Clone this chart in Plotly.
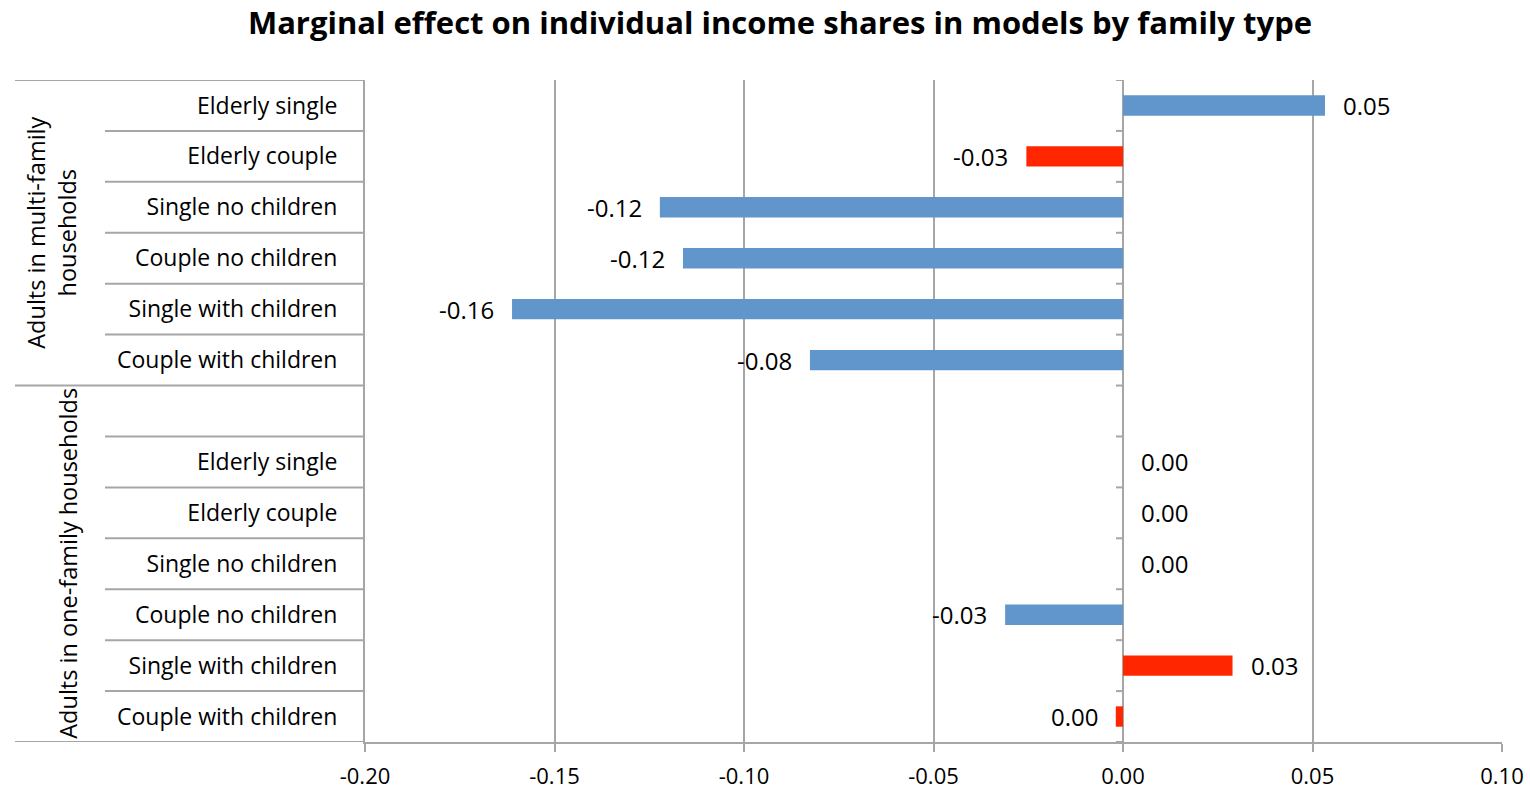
import plotly.graph_objects as go

title = "Marginal effect on individual income shares in models by family type"

group_labels = ["Adults in multi-family<br>households", "Adults in one-family households"]

multi_family_categories = ["Elderly single", "Elderly couple", "Single no children",
                           "Couple no children", "Single with children", "Couple with children"]
multi_family_values = [0.0533, -0.0255, -0.1222, -0.1161, -0.1612, -0.0826]
multi_family_flag = [False, True, False, False, False, False]

one_family_categories = ["", "Elderly single", "Elderly couple", "Single no children",
                         "Couple no children", "Single with children", "Couple with children"]
one_family_values = [None, 0.0, 0.0, 0.0, -0.0311, 0.0289, -0.0019]
one_family_flag = [False, False, False, False, False, True, True]

x_tick_values = [-0.20, -0.15, -0.10, -0.05, 0.00, 0.05, 0.10]

# ---------------------------------------------------------------
BLUE = "#6096CB"
RED = "#FF2600"
GRID = "#A6A6A6"
FONT = "Open Sans"

categories = multi_family_categories + one_family_categories
values = multi_family_values + one_family_values
flags = multi_family_flag + one_family_flag
group_sizes = [len(multi_family_categories), len(one_family_categories)]
n = len(categories)
y_pos = list(range(n))

W, H = 1530, 789
ML, MR, MT, MB = 365, 28, 80, 47
plot_w = W - ML - MR


def px_to_paper(px):
    return (px - ML) / plot_w


def fmt(v):
    return f"{round(v, 2) + 0.0:.2f}"


fig = go.Figure()
fig.add_trace(go.Bar(
    x=values, y=y_pos, orientation="h", width=0.4,
    marker=dict(color=[RED if f else BLUE for f in flags], line=dict(width=0)),
    hoverinfo="x+text", hovertext=categories,
))

annotations = []
for yi, v in zip(y_pos, values):
    if v is None:
        continue
    pos = v >= 0
    annotations.append(dict(x=v, y=yi, xref="x", yref="y", text=fmt(v), showarrow=False,
                            xanchor="left" if pos else "right", xshift=16 if pos else -16,
                            font=dict(size=24, color="black", family=FONT)))

shapes = []
# ticks on the zero axis at category boundaries
for k in range(n + 1):
    b = k - 0.5
    shapes.append(dict(type="line", xref="x", yref="y", xsizemode="pixel", xanchor=0,
                       x0=-7, x1=0, y0=b, y1=b, line=dict(color=GRID, width=2)))

# group / category separators on the left
start = 0
group_centers = []
for gs in group_sizes:
    top = start - 0.5
    bottom = start + gs - 0.5
    group_centers.append((top + bottom) / 2)
    shapes.append(dict(type="line", xref="paper", yref="y", x0=px_to_paper(15), x1=0,
                       y0=top, y1=top, line=dict(color=GRID, width=2)))
    for k in range(1, gs):
        b = start + k - 0.5
        shapes.append(dict(type="line", xref="paper", yref="y", x0=px_to_paper(105), x1=0,
                           y0=b, y1=b, line=dict(color=GRID, width=2)))
    start += gs
shapes.append(dict(type="line", xref="paper", yref="y", x0=px_to_paper(15), x1=0,
                   y0=n - 0.5, y1=n - 0.5, line=dict(color=GRID, width=2)))

group_x_px = [52, 68]
for lbl, c, gx in zip(group_labels, group_centers, group_x_px):
    annotations.append(dict(x=px_to_paper(gx), y=c, xref="paper", yref="y", text=lbl,
                            textangle=-90, showarrow=False, xanchor="center", yanchor="middle",
                            font=dict(size=23.5, color="black", family=FONT)))

fig.update_layout(
    width=W, height=H,
    margin=dict(l=ML, r=MR, t=MT, b=MB),
    paper_bgcolor="white", plot_bgcolor="white",
    font=dict(family=FONT, color="black"),
    showlegend=False,
    title=dict(text=f"<b>{title}</b>", x=780 / W, xanchor="center", xref="container",
               y=1 - 23 / H, yanchor="middle", yref="container",
               font=dict(size=31, color="black", family=FONT)),
    xaxis=dict(range=[x_tick_values[0], x_tick_values[-1]], tickmode="array",
               tickvals=x_tick_values, ticktext=[fmt(v) for v in x_tick_values],
               showgrid=True, gridcolor=GRID, gridwidth=2,
               zeroline=True, zerolinecolor=GRID, zerolinewidth=2,
               showline=True, linecolor=GRID, linewidth=2,
               ticks="outside", ticklen=8, tickcolor=GRID, tickwidth=2,
               tickfont=dict(size=22, color="black", family=FONT),
               ticklabelstandoff=6, automargin=False, layer="above traces"),
    yaxis=dict(range=[n - 0.5, -0.5], tickmode="array", tickvals=y_pos, ticktext=categories,
               showgrid=False, zeroline=False, showline=True, linecolor=GRID, linewidth=2,
               ticks="", tickfont=dict(size=23, color="black", family=FONT),
               ticklabelstandoff=21, automargin=False),
    annotations=annotations,
    shapes=shapes,
    bargap=0.6,
)

fig.write_html("out.html", config={"displayModeBar": False},
               post_script="document.body.style.margin='0';")
